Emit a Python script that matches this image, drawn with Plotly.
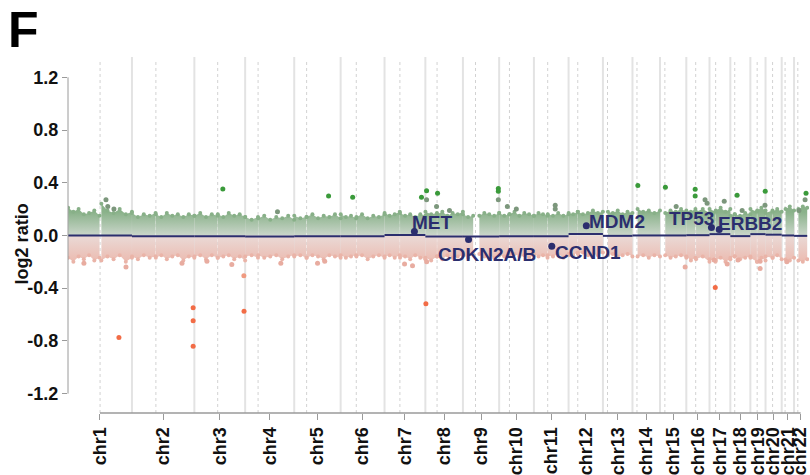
import numpy as np
import plotly.graph_objects as go

# ---- genome layout (hg19, Mb) ----
chrom_names = [f"chr{i}" for i in range(1, 23)]
chrom_len = [249.25, 243.20, 198.02, 191.15, 180.92, 171.12, 159.14, 146.36,
             141.21, 135.53, 135.01, 133.85, 115.17, 107.35, 102.53, 90.35,
             81.20, 78.08, 59.13, 63.03, 48.13, 51.30]
centromere = [125.0, 93.3, 91.0, 50.4, 48.4, 61.0, 59.9, 45.6, 49.0, 40.2, 53.7,
              35.8, 17.9, 17.6, 19.0, 36.6, 24.0, 17.2, 26.5, 27.5, 13.2, 14.7]

# ---- bin cloud envelope per covered segment (top / bottom of the log2 cloud) ----
seg_chrom = [1, 1, 2, 2, 3, 3, 4, 4, 5, 5, 6, 6, 7, 7, 8, 8, 9, 9, 10, 10, 11, 11,
             12, 12, 13, 14, 15, 16, 16, 17, 17, 18, 18, 19, 19, 20, 20, 21, 22]
seg_start = [0.5, 130, 0.3, 93, 0.3, 91.5, 0.3, 51, 0.3, 49, 0.3, 61.5, 0.3, 60.5, 0.3, 46,
             0.3, 64, 0.3, 41, 0.3, 54, 0.3, 36.5, 19.5, 20, 20.5, 0.3, 38, 0.3, 24.5,
             0.3, 17.8, 0.3, 27, 0.3, 28, 15, 17]
seg_end = [123, 249.2, 92, 243.1, 90.5, 198, 50, 191.1, 47.5, 180.9, 60.5, 171.1, 59.3, 159.1,
           45, 146.3, 40, 141.2, 39.5, 135.5, 53, 135, 35.5, 133.8, 115.1, 107.3, 102.5, 35.5,
           90.3, 23.5, 81.2, 16.5, 78, 25.5, 59.1, 27, 63, 48.1, 51.3]
seg_upper = [
    [0.21, 0.18, 0.20, 0.16, 0.17, 0.19, 0.15],
    [0.24, 0.19, 0.17, 0.20, 0.16, 0.18],
    [0.17, 0.14, 0.16, 0.15, 0.17],
    [0.16, 0.14, 0.17, 0.15, 0.16, 0.14, 0.16, 0.15],
    [0.15, 0.17, 0.14, 0.16, 0.15],
    [0.16, 0.14, 0.17, 0.15, 0.16, 0.14],
    [0.14, 0.12, 0.14],
    [0.13, 0.15, 0.12, 0.14, 0.13, 0.15, 0.12],
    [0.15, 0.13, 0.14],
    [0.14, 0.16, 0.13, 0.15, 0.14, 0.16, 0.13],
    [0.16, 0.14, 0.15, 0.13],
    [0.14, 0.16, 0.13, 0.15, 0.14, 0.16],
    [0.17, 0.15, 0.16, 0.18],
    [0.17, 0.15, 0.16, 0.14, 0.16, 0.15],
    [0.18, 0.16, 0.17],
    [0.16, 0.18, 0.15, 0.17, 0.16, 0.18],
    [0.16, 0.14, 0.15],
    [0.15, 0.17, 0.16, 0.15, 0.17],
    [0.17, 0.15, 0.16],
    [0.16, 0.18, 0.15, 0.17, 0.16, 0.15],
    [0.15, 0.17, 0.16, 0.15],
    [0.16, 0.15, 0.17, 0.15, 0.16],
    [0.17, 0.16, 0.18],
    [0.18, 0.16, 0.17, 0.19, 0.17, 0.18],
    [0.18, 0.17, 0.19, 0.16, 0.18, 0.17],
    [0.20, 0.18, 0.19, 0.17, 0.19],
    [0.17, 0.19, 0.18, 0.20, 0.18],
    [0.19, 0.18, 0.20],
    [0.18, 0.20, 0.17],
    [0.20, 0.18],
    [0.19, 0.21, 0.18, 0.20],
    [0.15, 0.16],
    [0.16, 0.15, 0.17, 0.16],
    [0.20, 0.18],
    [0.19, 0.21, 0.19],
    [0.17, 0.19],
    [0.18, 0.20, 0.18],
    [0.20, 0.22, 0.19],
    [0.20, 0.22, 0.21],
]
seg_lower = [
    [-0.17, -0.20, -0.16, -0.18, -0.15, -0.19, -0.17],
    [-0.19, -0.16, -0.18, -0.15, -0.20, -0.17],
    [-0.16, -0.18, -0.15, -0.17, -0.16],
    [-0.17, -0.15, -0.18, -0.16, -0.15, -0.19, -0.16, -0.17],
    [-0.16, -0.15, -0.18, -0.15, -0.17],
    [-0.17, -0.16, -0.15, -0.18, -0.16, -0.19],
    [-0.16, -0.15, -0.17],
    [-0.15, -0.17, -0.16, -0.15, -0.18, -0.16, -0.15],
    [-0.16, -0.15, -0.17],
    [-0.17, -0.15, -0.16, -0.18, -0.15, -0.16, -0.17],
    [-0.15, -0.17, -0.16, -0.15],
    [-0.16, -0.15, -0.18, -0.16, -0.15, -0.17],
    [-0.16, -0.15, -0.17, -0.15],
    [-0.17, -0.16, -0.18, -0.15, -0.17, -0.18],
    [-0.17, -0.19, -0.16],
    [-0.16, -0.18, -0.15, -0.17, -0.16, -0.15],
    [-0.15, -0.17, -0.14],
    [-0.14, -0.16, -0.15, -0.17, -0.15],
    [-0.15, -0.16, -0.14],
    [-0.15, -0.14, -0.16, -0.15, -0.17, -0.15],
    [-0.14, -0.16, -0.15, -0.17],
    [-0.15, -0.16, -0.14, -0.17, -0.15],
    [-0.14, -0.15, -0.13],
    [-0.14, -0.13, -0.15, -0.14, -0.15, -0.13],
    [-0.15, -0.14, -0.16, -0.15, -0.14, -0.16],
    [-0.16, -0.15, -0.17, -0.15, -0.16],
    [-0.15, -0.17, -0.16, -0.15, -0.17],
    [-0.16, -0.19, -0.17],
    [-0.18, -0.16, -0.20],
    [-0.18, -0.20],
    [-0.19, -0.17, -0.20, -0.18],
    [-0.17, -0.16],
    [-0.16, -0.18, -0.17, -0.16],
    [-0.17, -0.20],
    [-0.20, -0.17, -0.19],
    [-0.16, -0.17],
    [-0.17, -0.15, -0.18],
    [-0.18, -0.19, -0.17],
    [-0.19, -0.20, -0.18],
]

# ---- isolated bins outside the main cloud ----
pt_chrom = [3, 5, 6, 8, 7, 8, 8, 9, 9, 9, 14, 15, 16, 16, 18, 19, 22, 22,
            1, 1, 1, 8, 8, 10, 10, 11, 11, 16, 16, 17, 19, 4, 15, 18, 22,
            1, 1, 2, 3, 3, 3, 4, 5, 5, 7, 7, 8, 15, 17, 17, 18, 19, 19, 21,
            1, 2, 2, 2, 3, 8, 17]
pt_pos = [111, 134, 47, 4.7, 144, 4.7, 47.5, 138, 138, 138, 21, 21, 34.6, 34.6, 26.5, 58, 46.7, 43,
          148, 155, 179, 43.6, 94, 32, 67, 83, 83, 73, 81, 57.5, 57, 126, 63, 46, 19,
          62, 226, 195, 49, 146, 193, 139, 91, 119, 78, 109, 5, 98, 18, 69, 30, 38, 38, 20,
          198.5, 238.5, 238.5, 238.5, 193.6, 2.0, 22.5]
pt_val = [0.352, 0.30, 0.29, 0.34, 0.29, 0.27, 0.32, 0.357, 0.335, 0.27, 0.38, 0.365, 0.35, 0.30,
          0.305, 0.335, 0.32, 0.27,
          0.27, 0.22, 0.20, 0.22, 0.19, 0.22, 0.20, 0.23, 0.20, 0.27, 0.245, 0.26, 0.23, 0.18,
          0.22, 0.19, 0.19,
          -0.21, -0.24, -0.21, -0.195, -0.22, -0.305, -0.21, -0.21, -0.195, -0.216, -0.23, -0.20,
          -0.24, -0.186, -0.216, -0.186, -0.195, -0.25, -0.20,
          -0.774, -0.548, -0.647, -0.841, -0.575, -0.519, -0.394]

# ---- segmented copy-number line ----
cn_chrom = list(range(1, 23))
cn_value = [0.0, -0.006, -0.006, -0.007, -0.006, -0.006, 0.004, -0.007, -0.007, -0.006,
            -0.006, 0.012, -0.003, 0.0, 0.0, 0.002, 0.01, -0.005, 0.01, 0.006, 0.0, -0.003]

# ---- annotated genes ----
gene_names = ["MET", "CDKN2A/B", "CCND1", "MDM2", "TP53", "ERBB2"]
gene_chrom = [7, 9, 11, 12, 17, 17]
gene_pos = [116.4, 21.97, 69.6, 69.2, 7.6, 37.9]
gene_val = [0.03, -0.03, -0.082, 0.074, 0.06, 0.045]
label_anchor = ["left", "left", "left", "left", "right", "left"]
label_dx = [-4, -33, 1, 1, 5, -3]
label_dy = [9, -15, -6, 4.5, 9, 6.5]

offsets = np.concatenate([[0.0], np.cumsum(chrom_len)[:-1]])


def gx(c, mb):
    return offsets[c - 1] + mb


NAVY = "#2b2e6e"
fig = go.Figure()

# cloud fills with a colour ramp away from zero
green_ramp = [[0, "rgb(212,219,212)"], [1, "rgb(138,178,138)"]]
red_ramp = [[0, "rgb(236,182,170)"], [1, "rgb(234,214,210)"]]
edge_x, edge_y, edge_c = [], [], []
for c, s, e, up, lo in zip(seg_chrom, seg_start, seg_end, seg_upper, seg_lower):
    xu = gx(c, np.linspace(s, e, len(up)))
    xl = gx(c, np.linspace(s, e, len(lo)))
    fig.add_trace(go.Scatter(x=xu, y=up, mode="none", fill="tozeroy",
                             fillgradient=dict(type="vertical", colorscale=green_ramp,
                                               start=0, stop=0.2),
                             hoverinfo="skip", showlegend=False))
    fig.add_trace(go.Scatter(x=xl, y=lo, mode="none", fill="tozeroy",
                             fillgradient=dict(type="vertical", colorscale=red_ramp,
                                               start=-0.2, stop=0),
                             hoverinfo="skip", showlegend=False))
    edge_x += list(xu) + list(xl)
    edge_y += list(up) + list(lo)
    edge_c += ["rgb(136,176,136)"] * len(up) + ["rgb(234,180,168)"] * len(lo)

fig.add_trace(go.Scatter(x=edge_x, y=edge_y, mode="markers",
                         marker=dict(size=4, color=edge_c),
                         hoverinfo="skip", showlegend=False))


def point_colour(v):
    if v >= 0.28:
        return "#3a9a3a"
    if v > 0:
        return "#7c977c"
    if v <= -0.35:
        return "#f26c46"
    if v <= -0.28:
        return "#ef9a80"
    return "#e8aca0"


fig.add_trace(go.Scatter(x=[gx(c, p) for c, p in zip(pt_chrom, pt_pos)], y=pt_val,
                         mode="markers",
                         marker=dict(size=5, color=[point_colour(v) for v in pt_val]),
                         hoverinfo="skip", showlegend=False))

# segment line
seg_x, seg_y = [], []
for c, v in zip(cn_chrom, cn_value):
    seg_x += [gx(c, 0), gx(c, chrom_len[c - 1]), None]
    seg_y += [v, v, None]
fig.add_trace(go.Scatter(x=seg_x, y=seg_y, mode="lines",
                         line=dict(color=NAVY, width=2),
                         hoverinfo="skip", showlegend=False))

# genes
gxs = [gx(c, p) for c, p in zip(gene_chrom, gene_pos)]
fig.add_trace(go.Scatter(x=gxs, y=gene_val, mode="markers",
                         marker=dict(size=7, color=NAVY),
                         hoverinfo="skip", showlegend=False))
for name, x, y, anc, dx, dy in zip(gene_names, gxs, gene_val, label_anchor, label_dx, label_dy):
    fig.add_annotation(x=x, y=y, xref="x", yref="y", text=name, showarrow=False,
                       xanchor=anc, yanchor="middle", xshift=dx, yshift=dy,
                       font=dict(family="Liberation Sans", size=19, color=NAVY, weight="bold"))

# chromosome boundaries (solid) and centromeres (dotted)
shapes = []
for b in offsets[1:]:
    shapes.append(dict(type="line", xref="x", yref="paper", x0=b, x1=b, y0=0, y1=1,
                       line=dict(color="#e3e3e3", width=2), layer="below"))
for o, cen in zip(offsets, centromere):
    shapes.append(dict(type="line", xref="x", yref="paper", x0=o + cen, x1=o + cen, y0=0, y1=0.99,
                       line=dict(color="#d2d2d2", width=1, dash="dot"), layer="below"))
# y axis spine limited to the tick span, x spine between the first and last label
shapes.append(dict(type="line", xref="paper", yref="y", x0=0, x1=0, y0=-1.2, y1=1.2,
                   line=dict(color="#9a9a9a", width=1)))
centres = offsets + np.array(chrom_len) / 2
shapes.append(dict(type="line", xref="x", yref="paper", x0=centres[0], x1=centres[-1], y0=0, y1=0,
                   line=dict(color="#9a9a9a", width=1.5)))
fig.update_layout(shapes=shapes)

tick_font = dict(family="Liberation Sans", size=18, color="#111111", weight="bold")
y_ticks = [1.2, 0.8, 0.4, 0.0, -0.4, -0.8, -1.2]
fig.update_xaxes(range=[0, 2888], tickvals=centres, ticktext=chrom_names, tickangle=-90,
                 ticks="outside", ticklen=6, tickcolor="#9a9a9a", tickfont=tick_font,
                 ticklabeloverflow="allow",
                 showgrid=False, zeroline=False, showline=False, fixedrange=True)
fig.update_yaxes(range=[-1.347, 1.354], tickvals=y_ticks, ticktext=[f"{v:.1f}" for v in y_ticks],
                 ticks="outside", ticklen=5, tickcolor="#9a9a9a", tickfont=tick_font,
                 showgrid=False, zeroline=False, showline=False, fixedrange=True)

fig.add_annotation(text="log2 ratio", xref="paper", yref="paper", x=(22 - 68) / 742,
                   y=(420 - 248) / 363, xanchor="center", yanchor="middle",
                   textangle=-90, showarrow=False,
                   font=dict(family="Liberation Sans", size=18, color="#111111", weight="bold"))
fig.add_annotation(text="F", xref="paper", yref="paper", x=(6 - 68) / 742, y=(420 - 29) / 363,
                   xanchor="left", yanchor="middle", showarrow=False,
                   font=dict(family="Liberation Sans", size=50, color="#000000", weight="bold"))

fig.update_layout(width=810, height=475, margin=dict(l=68, r=0, t=57, b=55),
                  paper_bgcolor="white", plot_bgcolor="white", showlegend=False)
fig.write_html("out.html")
